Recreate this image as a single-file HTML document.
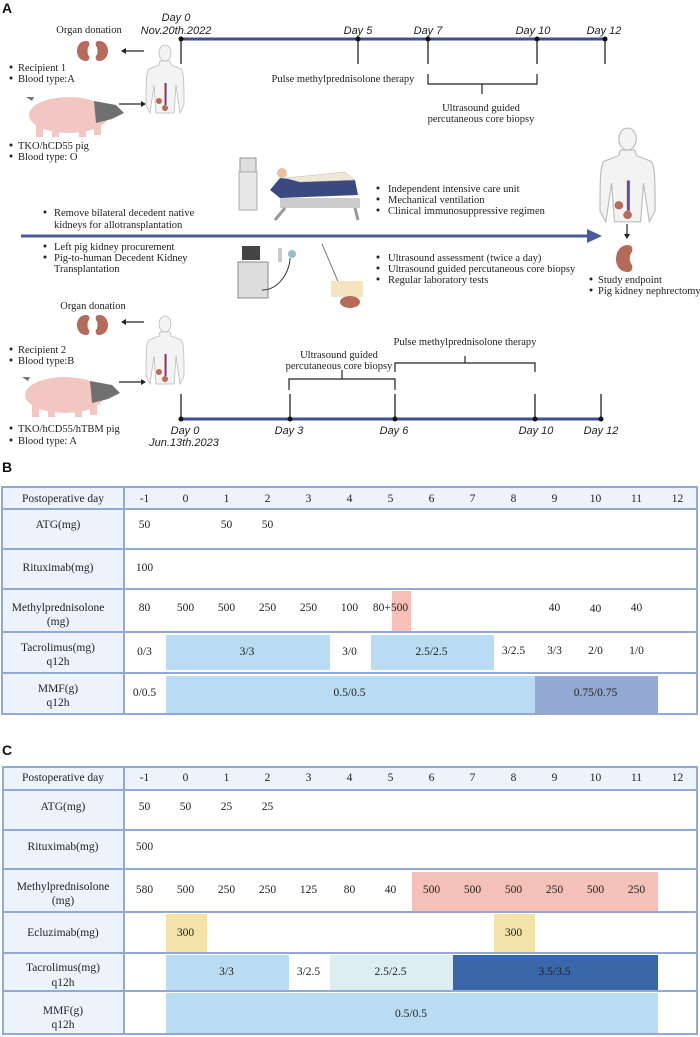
<!DOCTYPE html>
<html><head><meta charset="utf-8"><style>
html,body{margin:0;padding:0;background:#fff;}
svg{display:block;}
.s{font-family:"Liberation Serif",serif;font-size:10.5px;fill:#222;}
.t{font-family:"Liberation Serif",serif;font-size:11.5px;fill:#222;text-anchor:middle;}
.d{font-family:"Liberation Sans",sans-serif;font-style:italic;font-size:11px;fill:#222;text-anchor:middle;}
.L{font-family:"Liberation Sans",sans-serif;font-weight:bold;font-size:14px;fill:#111;}
</style></head><body>
<svg width="700" height="1037" viewBox="0 0 700 1037" xmlns="http://www.w3.org/2000/svg">
<defs>
<g id="kid"><path d="M0,0 c-6,0 -9,5 -9,10 c0,6 4,10 9,10 c3,0 4,-3 3,-5 c-2,-2 -2,-8 0,-10 c1,-3 0,-5 -3,-5z" fill="#b56a5c"/></g>
<g id="hum" fill="#f3f3f3" stroke="#bbb" stroke-width="0.8">
<ellipse cx="19" cy="8" rx="6" ry="8"/>
<path d="M14,16 L13,20 L3,24 C0,26 0,40 0,60 L4,68 L8,40 L10,68 L28,68 L30,40 L34,68 L38,60 C38,40 38,26 35,24 L25,20 L24,16z"/>
<line x1="19" y1="38" x2="19" y2="60" stroke="#c33" stroke-width="1"/>
<line x1="20" y1="38" x2="20" y2="60" stroke="#33a" stroke-width="1"/>
<circle cx="13" cy="56" r="3" fill="#b56a5c" stroke="none"/>
<circle cx="19" cy="63" r="3" fill="#b56a5c" stroke="none"/>
</g>
<g id="pig">
<ellipse cx="45" cy="22" rx="40" ry="18" fill="#f2c6c2"/>
<path d="M70,8 L92,12 L100,20 L88,26 L72,30z" fill="#707070"/>
<rect x="12" y="32" width="7" height="12" fill="#f2c6c2"/>
<rect x="28" y="34" width="7" height="10" fill="#f2c6c2"/>
<rect x="55" y="34" width="7" height="10" fill="#f2c6c2"/>
<rect x="70" y="30" width="7" height="12" fill="#f2c6c2"/>
<path d="M8,8 l-6,-4 l8,0z" fill="#777"/>
</g>
</defs>

<!-- Section A -->
<text class="L" x="2" y="13">A</text>
<text class="s" x="89" y="33" text-anchor="middle">Organ donation</text>
<use href="#kid" x="86" y="41"/><use href="#kid" transform="translate(99,41) scale(-1,1)"/>
<line x1="144" y1="51" x2="124" y2="51" stroke="#222" stroke-width="1.2"/><path d="M121,51 l5,-3 v6z" fill="#222"/>
<use href="#hum" x="146" y="45"/>
<circle cx="11" cy="67" r="1.5" fill="#222"/><text class="s" x="18" y="71">Recipient 1</text>
<circle cx="11" cy="78" r="1.5" fill="#222"/><text class="s" x="18" y="82">Blood type:A</text>
<use href="#pig" x="24" y="93"/>
<line x1="119" y1="104" x2="142" y2="104" stroke="#222" stroke-width="1.2"/><path d="M146,104 l-5,-3 v6z" fill="#222"/>
<circle cx="11" cy="145" r="1.5" fill="#222"/><text class="s" x="18" y="149">TKO/hCD55  pig</text>
<circle cx="11" cy="156" r="1.5" fill="#222"/><text class="s" x="18" y="160">Blood type: O</text>

<line x1="181" y1="39" x2="605" y2="39" stroke="#3f4f8f" stroke-width="3"/>
<g stroke="#222" stroke-width="1.3">
<line x1="181" y1="39" x2="181" y2="64"/><line x1="358" y1="39" x2="358" y2="64"/><line x1="428" y1="39" x2="428" y2="64"/><line x1="537" y1="39" x2="537" y2="64"/><line x1="605" y1="39" x2="605" y2="64"/></g>
<g fill="#111"><circle cx="181" cy="39" r="2.5"/><circle cx="358" cy="39" r="2.5"/><circle cx="428" cy="39" r="2.5"/><circle cx="537" cy="39" r="2.5"/><circle cx="605" cy="39" r="2.5"/></g>
<text class="d" x="176" y="21">Day 0</text><text class="d" x="176" y="34">Nov.20th.2022</text>
<text class="d" x="358" y="34">Day 5</text><text class="d" x="428" y="34">Day 7</text><text class="d" x="533" y="34">Day 10</text><text class="d" x="604" y="34">Day 12</text>
<text class="s" x="343" y="82" text-anchor="middle">Pulse methylprednisolone therapy</text>
<path d="M428,74 V84 H537 V74 M482,84 V94" fill="none" stroke="#222" stroke-width="1.2"/>
<text class="s" x="481" y="111" text-anchor="middle">Ultrasound guided</text>
<text class="s" x="481" y="122" text-anchor="middle">percutaneous core biopsy</text>

<!-- ICU -->
<rect x="240" y="158" width="16" height="14" fill="#ddd" stroke="#999"/>
<rect x="239" y="172" width="18" height="38" fill="#e6e6e6" stroke="#aaa"/>
<path d="M270,190 L280,178 L300,180 L355,180 L358,195 L280,198z" fill="#3a4a80"/>
<path d="M285,178 L345,172 L355,180 L300,182z" fill="#efe7d8" stroke="#bbb" stroke-width="0.5"/>
<circle cx="282" cy="173" r="5" fill="#e8c0a0"/>
<rect x="280" y="198" width="80" height="10" fill="#ccc"/>
<path d="M285,208 L275,220 M355,208 L358,220" stroke="#999" stroke-width="3"/>
<circle cx="378" cy="188" r="1.5" fill="#222"/><text class="s" x="388" y="192">Independent intensive care unit</text>
<circle cx="378" cy="199" r="1.5" fill="#222"/><text class="s" x="388" y="203">Mechanical ventilation</text>
<circle cx="378" cy="210" r="1.5" fill="#222"/><text class="s" x="388" y="214">Clinical immunosuppressive regimen</text>

<use href="#hum" transform="translate(600,128) scale(1.45,1.38)"/>
<line x1="627" y1="224" x2="627" y2="234" stroke="#222" stroke-width="1.2"/><path d="M627,239 l-3,-5 h6z" fill="#222"/>
<path d="M628,245 c-8,0 -12,7 -12,14 c0,8 5,13 12,13 c4,0 5,-4 4,-7 c-3,-3 -3,-10 0,-13 c1,-4 0,-7 -4,-7z" fill="#b56a5c"/>

<line x1="21" y1="236" x2="590" y2="236" stroke="#4a5a9a" stroke-width="3"/>
<path d="M602,236 L587,229 L587,243z" fill="#4a5a9a"/>
<circle cx="45" cy="212" r="1.5" fill="#222"/><text class="s" x="54" y="216">Remove bilateral decedent native</text>
<text class="s" x="54" y="228">kidneys for allotransplantation</text>
<circle cx="45" cy="246" r="1.5" fill="#222"/><text class="s" x="54" y="250">Left pig kidney procurement</text>
<circle cx="45" cy="257" r="1.5" fill="#222"/><text class="s" x="54" y="261">Pig-to-human Decedent Kidney</text>
<text class="s" x="54" y="272">Transplantation</text>

<!-- ultrasound -->
<rect x="242" y="246" width="18" height="14" fill="#444"/>
<rect x="238" y="262" width="30" height="36" fill="#ddd" stroke="#888"/>
<rect x="278" y="248" width="4" height="14" fill="#ccc"/><circle cx="292" cy="254" r="4" fill="#9bc"/>
<path d="M262,290 C280,290 290,270 290,258" fill="none" stroke="#333"/>
<line x1="322" y1="244" x2="345" y2="298" stroke="#777"/>
<rect x="331" y="281" width="32" height="16" fill="#f4e5c0"/>
<ellipse cx="350" cy="302" rx="10" ry="6" fill="#b56a5c"/>
<circle cx="378" cy="257" r="1.5" fill="#222"/><text class="s" x="388" y="261">Ultrasound assessment (twice a day)</text>
<circle cx="378" cy="268" r="1.5" fill="#222"/><text class="s" x="388" y="272">Ultrasound guided percutaneous core biopsy</text>
<circle cx="378" cy="279" r="1.5" fill="#222"/><text class="s" x="388" y="283">Regular laboratory tests</text>
<circle cx="591" cy="279" r="1.5" fill="#222"/><text class="s" x="598" y="283">Study endpoint</text>
<circle cx="591" cy="290" r="1.5" fill="#222"/><text class="s" x="598" y="294">Pig kidney nephrectomy</text>

<!-- lower part -->
<text class="s" x="93" y="309" text-anchor="middle">Organ donation</text>
<use href="#kid" x="86" y="315"/><use href="#kid" transform="translate(99,315) scale(-1,1)"/>
<line x1="144" y1="322" x2="124" y2="322" stroke="#222" stroke-width="1.2"/><path d="M121,322 l5,-3 v6z" fill="#222"/>
<use href="#hum" x="146" y="316"/>
<circle cx="11" cy="349" r="1.5" fill="#222"/><text class="s" x="18" y="353">Recipient 2</text>
<circle cx="11" cy="360" r="1.5" fill="#222"/><text class="s" x="18" y="364">Blood type:B</text>
<use href="#pig" x="20" y="373"/>
<line x1="119" y1="382" x2="142" y2="382" stroke="#222" stroke-width="1.2"/><path d="M146,382 l-5,-3 v6z" fill="#222"/>
<circle cx="11" cy="428" r="1.5" fill="#222"/><text class="s" x="18" y="432">TKO/hCD55/hTBM pig</text>
<circle cx="11" cy="440" r="1.5" fill="#222"/><text class="s" x="18" y="444">Blood type: A</text>

<text class="s" x="465" y="345" text-anchor="middle">Pulse methylprednisolone therapy</text>
<path d="M395,372 V363 H535 V372 M465,363 V356" fill="none" stroke="#222" stroke-width="1.2"/>
<text class="s" x="339" y="358" text-anchor="middle">Ultrasound guided</text>
<text class="s" x="339" y="369" text-anchor="middle">percutaneous core biopsy</text>
<path d="M289,390 V379 H395 V390 M342,379 V370" fill="none" stroke="#222" stroke-width="1.2"/>
<line x1="181" y1="419" x2="601" y2="419" stroke="#3f4f8f" stroke-width="3"/>
<g stroke="#222" stroke-width="1.3">
<line x1="181" y1="394" x2="181" y2="419"/><line x1="290" y1="394" x2="290" y2="419"/><line x1="395" y1="394" x2="395" y2="419"/><line x1="535" y1="394" x2="535" y2="419"/><line x1="601" y1="394" x2="601" y2="419"/></g>
<g fill="#111"><circle cx="181" cy="419" r="2.5"/><circle cx="290" cy="419" r="2.5"/><circle cx="395" cy="419" r="2.5"/><circle cx="535" cy="419" r="2.5"/><circle cx="601" cy="419" r="2.5"/></g>
<text class="d" x="185" y="434">Day 0</text><text class="d" x="184" y="446">Jun.13th.2023</text>
<text class="d" x="289" y="434">Day 3</text><text class="d" x="394" y="434">Day 6</text><text class="d" x="536" y="434">Day 10</text><text class="d" x="601" y="434">Day 12</text>

<!-- Table B -->
<text class="L" x="2" y="472">B</text>
<rect x="2" y="487" width="695" height="22" fill="#edf3fc"/>
<rect x="2" y="509" width="122" height="205" fill="#edf3fc"/>
<rect x="392" y="591" width="19" height="40" fill="#f4c0b8"/>
<rect x="166" y="635" width="164" height="35" fill="#b9dcf2"/>
<rect x="371" y="635" width="123" height="35" fill="#b9dcf2"/>
<rect x="166" y="676" width="369" height="38" fill="#b9dcf2"/>
<rect x="535" y="676" width="123" height="38" fill="#94a8d4"/>
<g stroke="#94a8d8" stroke-width="2" fill="none">
<rect x="2" y="487" width="695" height="227"/>
<line x1="2" y1="509" x2="697" y2="509"/><line x1="2" y1="549" x2="697" y2="549"/><line x1="2" y1="589" x2="697" y2="589"/><line x1="2" y1="632" x2="697" y2="632"/><line x1="2" y1="673" x2="697" y2="673"/>
<line x1="124" y1="487" x2="124" y2="714"/></g>
<g class="t">
<text x="63" y="502" class="t">Postoperative day</text>
<text x="144.5" y="502" class="t">-1</text><text x="185.5" y="502" class="t">0</text><text x="226.5" y="502" class="t">1</text><text x="267.5" y="502" class="t">2</text><text x="308.5" y="502" class="t">3</text><text x="349.5" y="502" class="t">4</text><text x="390.5" y="502" class="t">5</text><text x="431.5" y="502" class="t">6</text><text x="472.5" y="502" class="t">7</text><text x="513.5" y="502" class="t">8</text><text x="554.5" y="502" class="t">9</text><text x="595.5" y="502" class="t">10</text><text x="636.5" y="502" class="t">11</text><text x="677.5" y="502" class="t">12</text>
<text x="58" y="528" class="t">ATG(mg)</text>
<text x="144.5" y="528" class="t">50</text><text x="226.5" y="528" class="t">50</text><text x="267.5" y="528" class="t">50</text>
<text x="58" y="571" class="t">Rituximab(mg)</text><text x="144.5" y="571" class="t">100</text>
<text x="58" y="611" class="t">Methylprednisolone</text><text x="58" y="625" class="t">(mg)</text>
<text x="144.5" y="611" class="t">80</text><text x="185.5" y="611" class="t">500</text><text x="226.5" y="611" class="t">500</text><text x="267.5" y="611" class="t">250</text><text x="308.5" y="611" class="t">250</text><text x="349.5" y="611" class="t">100</text><text x="390.5" y="611" class="t">80+500</text><text x="554.5" y="611" class="t">40</text><text x="595.5" y="612" class="t">40</text><text x="636.5" y="611" class="t">40</text>
<text x="58" y="651" class="t">Tacrolimus(mg)</text><text x="58" y="665" class="t">q12h</text>
<text x="144.5" y="655" class="t">0/3</text><text x="247" y="655" class="t">3/3</text><text x="349.5" y="655" class="t">3/0</text><text x="431.5" y="655" class="t">2.5/2.5</text><text x="513.5" y="654" class="t">3/2.5</text><text x="554.5" y="654" class="t">3/3</text><text x="595.5" y="654" class="t">2/0</text><text x="636.5" y="654" class="t">1/0</text>
<text x="58" y="692" class="t">MMF(g)</text><text x="58" y="706" class="t">q12h</text>
<text x="144.5" y="696" class="t">0/0.5</text><text x="349.5" y="696" class="t">0.5/0.5</text><text x="595.5" y="696" class="t">0.75/0.75</text>
</g>

<!-- Table C -->
<text class="L" x="2" y="755">C</text>
<rect x="3" y="767" width="694" height="23" fill="#edf3fc"/>
<rect x="3" y="790" width="121" height="244" fill="#edf3fc"/>
<rect x="412" y="872" width="246" height="39" fill="#f4c0b8"/>
<rect x="166" y="914" width="41" height="38" fill="#f3e3a8"/>
<rect x="494" y="914" width="41" height="38" fill="#f3e3a8"/>
<rect x="166" y="955" width="123" height="35" fill="#b9dcf2"/>
<rect x="330" y="955" width="123" height="35" fill="#dcedf3"/>
<rect x="453" y="955" width="205" height="35" fill="#3a66aa"/>
<rect x="166" y="993" width="492" height="40" fill="#b9dcf2"/>
<g stroke="#94a8d8" stroke-width="2" fill="none">
<rect x="3" y="767" width="694" height="267"/>
<line x1="3" y1="790" x2="697" y2="790"/><line x1="3" y1="830" x2="697" y2="830"/><line x1="3" y1="869" x2="697" y2="869"/><line x1="3" y1="912" x2="697" y2="912"/><line x1="3" y1="953" x2="697" y2="953"/><line x1="3" y1="991" x2="697" y2="991"/>
<line x1="124" y1="767" x2="124" y2="1034"/></g>
<g>
<text x="63" y="781" class="t">Postoperative day</text>
<text x="144.5" y="781" class="t">-1</text><text x="185.5" y="781" class="t">0</text><text x="226.5" y="781" class="t">1</text><text x="267.5" y="781" class="t">2</text><text x="308.5" y="781" class="t">3</text><text x="349.5" y="781" class="t">4</text><text x="390.5" y="781" class="t">5</text><text x="431.5" y="781" class="t">6</text><text x="472.5" y="781" class="t">7</text><text x="513.5" y="781" class="t">8</text><text x="554.5" y="781" class="t">9</text><text x="595.5" y="781" class="t">10</text><text x="636.5" y="781" class="t">11</text><text x="677.5" y="781" class="t">12</text>
<text x="63" y="810" class="t">ATG(mg)</text>
<text x="144.5" y="810" class="t">50</text><text x="185.5" y="810" class="t">50</text><text x="226.5" y="810" class="t">25</text><text x="267.5" y="810" class="t">25</text>
<text x="63" y="850" class="t">Rituximab(mg)</text><text x="144.5" y="850" class="t">500</text>
<text x="63" y="890" class="t">Methylprednisolone</text><text x="63" y="904" class="t">(mg)</text>
<text x="144.5" y="893" class="t">580</text><text x="185.5" y="893" class="t">500</text><text x="226.5" y="893" class="t">250</text><text x="267.5" y="893" class="t">250</text><text x="308.5" y="893" class="t">125</text><text x="349.5" y="893" class="t">80</text><text x="390.5" y="893" class="t">40</text><text x="431.5" y="893" class="t">500</text><text x="472.5" y="893" class="t">500</text><text x="513.5" y="893" class="t">500</text><text x="554.5" y="893" class="t">250</text><text x="595.5" y="893" class="t">500</text><text x="636.5" y="893" class="t">250</text>
<text x="63" y="936" class="t">Ecluzimab(mg)</text>
<text x="185.5" y="936" class="t">300</text><text x="513.5" y="936" class="t">300</text>
<text x="63" y="971" class="t">Tacrolimus(mg)</text><text x="63" y="986" class="t">q12h</text>
<text x="226.5" y="975" class="t">3/3</text><text x="308.5" y="975" class="t">3/2.5</text><text x="390.5" y="975" class="t">2.5/2.5</text><text x="554.5" y="975" class="t">3.5/3.5</text>
<text x="63" y="1014" class="t">MMF(g)</text><text x="63" y="1028" class="t">q12h</text>
<text x="411" y="1017" class="t">0.5/0.5</text>
</g>
</svg>
</body></html>
